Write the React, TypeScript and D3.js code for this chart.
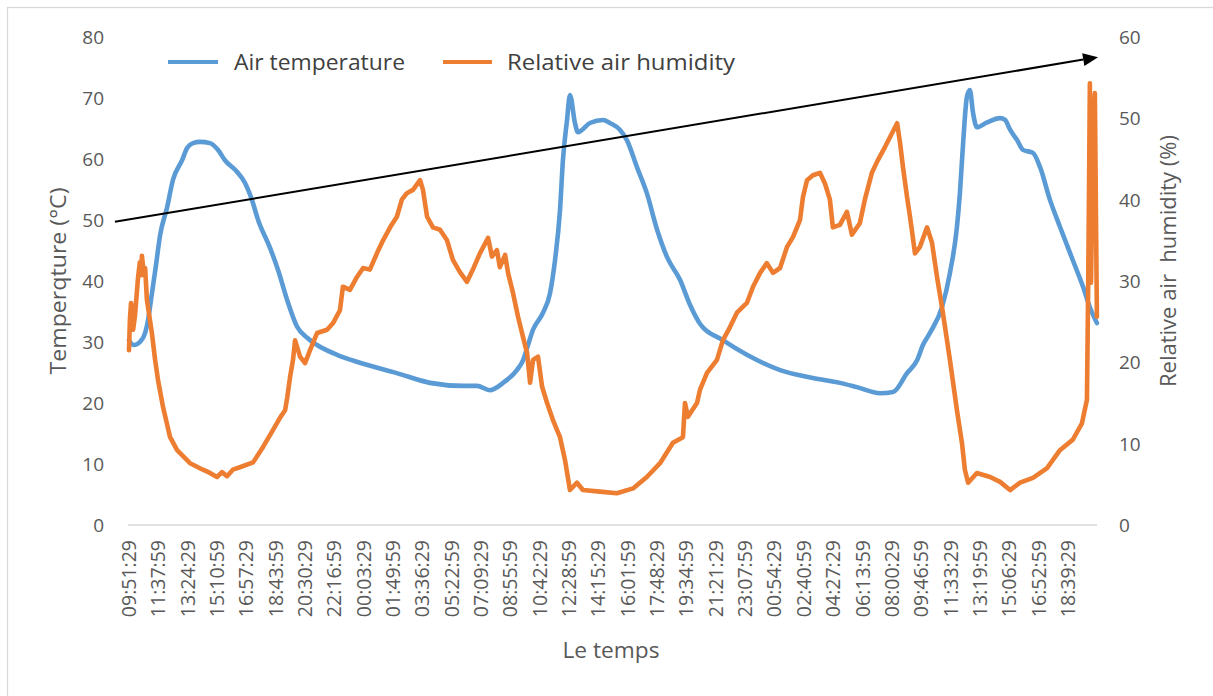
import React from "react";
import * as d3 from "d3";

// Category labels shown on the x axis (one every 1 h 46 min 30 s)
const timeLabels = [
  "09:51:29", "11:37:59", "13:24:29", "15:10:59", "16:57:29", "18:43:59", "20:30:29",
  "22:16:59", "00:03:29", "01:49:59", "03:36:29", "05:22:59", "07:09:29", "08:55:59",
  "10:42:29", "12:28:59", "14:15:29", "16:01:59", "17:48:29", "19:34:59", "21:21:29",
  "23:07:59", "00:54:29", "02:40:59", "04:27:29", "06:13:59", "08:00:29", "09:46:59",
  "11:33:29", "13:19:59", "15:06:29", "16:52:59", "18:39:29",
];
const leftTicks = [0, 10, 20, 30, 40, 50, 60, 70, 80];
const rightTicks = [0, 10, 20, 30, 40, 50, 60];

// [time in label intervals, air temperature °C]
const airTemperature: [number, number][] = [
  [0.0, 30.3], [0.17, 29.5], [0.37, 30.0], [0.55, 31.5], [0.65, 33.6], [0.75, 36.9],
  [0.92, 42.6], [1.06, 47.5], [1.3, 52.1], [1.5, 56.6], [1.81, 59.8], [1.98, 61.8],
  [2.18, 62.6], [2.42, 62.8], [2.76, 62.6], [3.03, 61.5], [3.27, 59.8], [3.68, 57.9],
  [3.95, 56.1], [4.19, 53.3], [4.4, 50.0], [4.81, 45.4], [5.08, 41.8], [5.39, 36.9],
  [5.73, 32.5], [6.07, 30.7], [6.41, 29.5], [7.09, 27.9], [7.87, 26.6], [9.13, 24.9],
  [10.26, 23.3], [11.38, 22.8], [11.86, 22.8], [12.3, 22.1], [12.75, 23.3], [13.22, 25.4],
  [13.43, 27.0], [13.6, 29.5], [13.77, 32.0], [14.11, 34.8], [14.35, 38.0], [14.52, 43.4],
  [14.69, 51.6], [14.79, 59.8], [14.93, 66.4], [15.03, 70.5], [15.2, 65.9], [15.3, 64.4],
  [15.71, 65.9], [16.16, 66.4], [16.39, 65.9], [16.73, 64.8], [16.97, 63.1], [17.31, 58.7],
  [17.65, 54.4], [18.0, 48.4], [18.34, 43.9], [18.78, 40.2], [19.12, 36.1], [19.46, 33.0],
  [20.24, 30.3], [21.06, 27.9], [22.19, 25.4], [23.31, 24.1], [24.23, 23.3], [24.81, 22.6],
  [25.6, 21.6], [26.04, 21.8], [26.52, 24.9], [26.86, 27.0], [27.06, 29.5], [27.3, 31.5],
  [27.71, 35.7], [27.98, 41.3], [28.22, 48.9], [28.32, 54.4], [28.43, 62.6], [28.56, 70.2],
  [28.66, 71.3], [28.77, 67.5], [28.9, 65.2], [29.24, 66.0], [29.69, 66.7], [29.86, 66.4],
  [30.03, 64.8], [30.27, 63.1], [30.47, 61.5], [30.81, 61.0], [31.05, 58.7], [31.39, 53.3],
  [31.73, 48.9], [32.17, 43.4], [32.52, 39.0], [32.75, 35.7], [32.99, 33.1],
];

// [time in label intervals, relative air humidity %]
const relativeHumidity: [number, number][] = [
  [0.0, 21.5], [0.03, 25.2], [0.07, 27.3], [0.14, 24.0], [0.2, 25.6], [0.31, 30.5],
  [0.37, 32.3], [0.41, 30.7], [0.44, 33.1], [0.51, 30.7], [0.55, 31.6], [0.61, 27.7],
  [0.78, 23.6], [0.89, 20.3], [0.99, 17.8], [1.16, 14.5], [1.4, 10.8], [1.64, 9.2],
  [2.08, 7.6], [2.52, 6.8], [2.76, 6.4], [3.0, 5.9], [3.17, 6.5], [3.34, 6.0], [3.54, 6.8],
  [3.78, 7.1], [4.23, 7.7], [4.57, 9.6], [4.91, 11.7], [5.15, 13.2], [5.32, 14.1],
  [5.39, 15.6], [5.49, 18.2], [5.59, 20.3], [5.66, 22.7], [5.83, 20.7], [6.0, 19.9],
  [6.17, 21.5], [6.41, 23.6], [6.75, 24.0], [6.95, 24.8], [7.19, 26.4], [7.29, 29.3],
  [7.53, 28.9], [7.77, 30.5], [7.98, 31.6], [8.21, 31.4], [8.45, 33.4], [8.66, 35.0],
  [8.9, 36.6], [9.13, 37.9], [9.3, 40.0], [9.47, 40.8], [9.68, 41.2], [9.92, 42.4],
  [10.02, 41.2], [10.16, 37.9], [10.36, 36.6], [10.6, 36.3], [10.84, 35.0], [11.04, 32.6],
  [11.28, 31.1], [11.52, 29.9], [11.72, 31.4], [11.96, 33.4], [12.24, 35.3], [12.37, 33.0],
  [12.54, 33.8], [12.64, 31.7], [12.82, 33.2], [12.92, 31.0], [13.09, 28.5], [13.26, 25.6],
  [13.43, 23.1], [13.57, 21.1], [13.67, 17.5], [13.77, 20.3], [13.94, 20.7], [14.08, 17.0],
  [14.25, 15.0], [14.45, 12.9], [14.69, 10.8], [14.86, 8.0], [15.03, 4.3], [15.27, 5.2],
  [15.47, 4.3], [16.05, 4.1], [16.63, 3.9], [17.18, 4.5], [17.65, 5.9], [18.1, 7.6],
  [18.54, 10.1], [18.88, 10.8], [18.95, 15.0], [19.05, 13.3], [19.36, 15.0], [19.46, 16.6],
  [19.7, 18.7], [20.04, 20.3], [20.24, 22.7], [20.48, 24.3], [20.72, 26.1], [21.06, 27.3],
  [21.27, 29.3], [21.51, 31.0], [21.74, 32.2], [21.95, 31.0], [22.19, 31.6], [22.43, 34.2],
  [22.63, 35.4], [22.87, 37.5], [22.97, 40.3], [23.11, 42.4], [23.31, 43.0], [23.55, 43.3],
  [23.72, 42.0], [23.89, 40.0], [23.99, 36.6], [24.23, 36.9], [24.47, 38.5], [24.64, 35.7],
  [24.91, 37.1], [25.08, 40.0], [25.32, 43.3], [25.53, 44.9], [25.77, 46.5], [26.01, 48.2],
  [26.18, 49.4], [26.28, 47.0], [26.38, 44.0], [26.52, 40.3], [26.62, 37.9], [26.79, 33.4],
  [26.96, 34.2], [27.2, 36.6], [27.37, 34.7], [27.54, 30.5], [27.74, 26.1], [27.98, 20.3],
  [28.22, 14.1], [28.39, 10.1], [28.49, 6.8], [28.6, 5.2], [28.9, 6.4], [29.35, 5.9],
  [29.69, 5.3], [30.03, 4.3], [30.37, 5.2], [30.81, 5.8], [31.29, 7.0], [31.73, 9.2],
  [32.17, 10.5], [32.48, 12.5], [32.65, 15.4], [32.69, 28.5], [32.72, 40.8], [32.75, 54.3],
  [32.79, 29.8], [32.86, 49.0], [32.92, 53.1], [32.99, 25.6],
];

// Trend arrow annotation: [time in label intervals, temperature °C]
const trendArrow: [number, number][] = [[-0.48, 49.7], [33.03, 76.7]];

const W = 1213;
const H = 696;
const FONT = "'Open Sans', 'Liberation Sans', sans-serif";
const TXT = "#595959";
const BLUE = "#5B9BD5";
const ORANGE = "#ED7D31";

export default function App() {
  const x = d3.scaleLinear().domain([0, 33]).range([129, 1097.2]);
  const yL = d3.scaleLinear().domain([0, 80]).range([525, 37]);
  const yR = d3.scaleLinear().domain([0, 60]).range([525, 37]);

  const lineT = d3.line<[number, number]>().x((d) => x(d[0])).y((d) => yL(d[1])).curve(d3.curveMonotoneX);
  const lineH = d3.line<[number, number]>().x((d) => x(d[0])).y((d) => yR(d[1]));

  const [a0, a1] = trendArrow;
  const ax0 = x(a0[0]), ay0 = yL(a0[1]), ax1 = x(a1[0]), ay1 = yL(a1[1]);
  const ang = Math.atan2(ay1 - ay0, ax1 - ax0);
  const headL = 15, headW = 6.5;
  const bx = ax1 - headL * Math.cos(ang), by = ay1 - headL * Math.sin(ang);
  const head = [
    [ax1, ay1],
    [bx + headW * Math.sin(ang), by - headW * Math.cos(ang)],
    [bx - headW * Math.sin(ang), by + headW * Math.cos(ang)],
  ].map((p) => p.join(",")).join(" ");

  return (
    <svg width={W} height={H} style={{ position: "absolute", left: 0, top: 0, background: "#fff" }} fontFamily={FONT}>
      <rect x={7.5} y={7.5} width={1210} height={700} fill="#fff" stroke="#d9d9d9" strokeWidth={1.3} />

      {/* x axis line */}
      <line x1={x(0) - 1} x2={x(33)} y1={yL(0)} y2={yL(0)} stroke="#d9d9d9" strokeWidth={1.5} />

      {/* left ticks */}
      {leftTicks.map((t) => (
        <text key={"l" + t} x={104} y={yL(t)} dy="0.36em" textAnchor="end" fontSize={19} fill={TXT}>{t}</text>
      ))}
      {/* right ticks */}
      {rightTicks.map((t) => (
        <text key={"r" + t} x={1119} y={yR(t)} dy="0.36em" textAnchor="start" fontSize={19} fill={TXT}>{t}</text>
      ))}
      {/* x tick labels */}
      {timeLabels.map((lab, i) => (
        <text key={"x" + i} transform={`translate(${x(i)},540) rotate(-90)`} dy="0.36em" textAnchor="end" fontSize={19.5} fill={TXT}>{lab}</text>
      ))}

      {/* axis titles */}
      <text transform={`translate(66,281) rotate(-90)`} textAnchor="middle" fontSize={21} fill={TXT} textLength={187} lengthAdjust="spacingAndGlyphs">Temperqture (°C)</text>
      <text transform={`translate(1176,261) rotate(-90)`} textAnchor="middle" fontSize={21} fill={TXT} textLength={252} lengthAdjust="spacingAndGlyphs" style={{ whiteSpace: "pre" }}>Relative air  humidity (%)</text>
      <text x={611} y={658} textAnchor="middle" fontSize={21} fill={TXT} textLength={97} lengthAdjust="spacingAndGlyphs">Le temps</text>

      {/* series */}
      <path d={lineT(airTemperature) || ""} fill="none" stroke={BLUE} strokeWidth={4.6} strokeLinejoin="round" strokeLinecap="round" />
      <path d={lineH(relativeHumidity) || ""} fill="none" stroke={ORANGE} strokeWidth={4.6} strokeLinejoin="round" strokeLinecap="round" />

      {/* trend arrow */}
      <line x1={ax0} y1={ay0} x2={bx} y2={by} stroke="#000" strokeWidth={2} />
      <polygon points={head} fill="#000" />

      {/* legend */}
      <line x1={168} x2={218} y1={62} y2={62} stroke={BLUE} strokeWidth={4.2} />
      <text x={234} y={62} dy="0.36em" fontSize={21} fill="#404040" textLength={171} lengthAdjust="spacingAndGlyphs">Air temperature</text>
      <line x1={443} x2={492} y1={62} y2={62} stroke={ORANGE} strokeWidth={4.2} />
      <text x={507} y={62} dy="0.36em" fontSize={21} fill="#404040" textLength={228} lengthAdjust="spacingAndGlyphs">Relative air humidity</text>
    </svg>
  );
}
